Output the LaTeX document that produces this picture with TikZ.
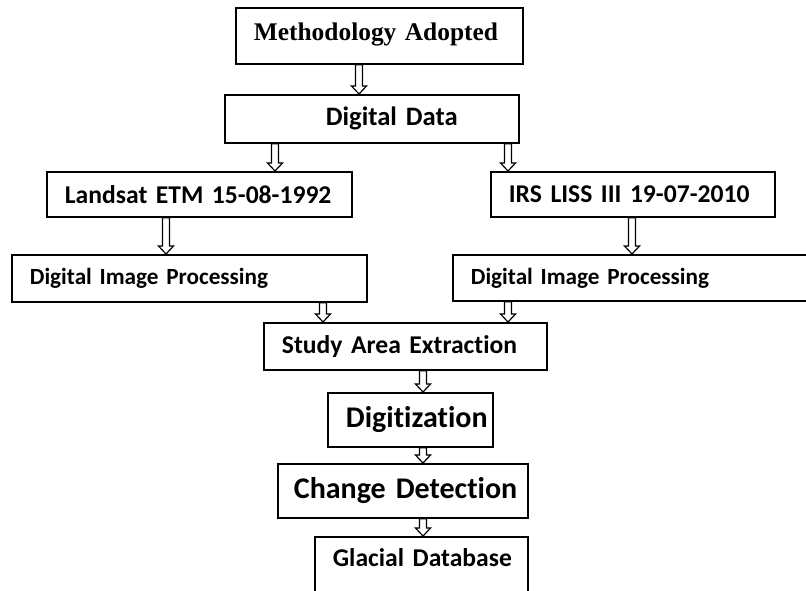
\documentclass[tikz,border=0pt]{standalone}
\usepackage{fontspec}
\setmainfont{Carlito}[Ligatures=NoCommon]
\newfontfamily\timesfont{Liberation Serif}
\usetikzlibrary{calc}

\tikzset{
  box/.style={draw,line width=0.9pt,rectangle,anchor=north west,inner xsep=9pt,inner ysep=0pt,align=left},
  hollow/.style={to path={($(\tikztostart)+(-3.5,0)$) -- ($(\tikztotarget)+(-3.5,-8)$) -- ($(\tikztotarget)+(-7.5,-8)$) -- (\tikztotarget) -- ($(\tikztotarget)+(7.5,-8)$) -- ($(\tikztotarget)+(3.5,-8)$) -- ($(\tikztostart)+(3.5,0)$) -- cycle}}
}

\begin{document}
\begin{tikzpicture}
  [x=0.5pt,y=-0.5pt,every node/.style={box,font=\fontsize{12.8}{15}\selectfont\bfseries}]
  \useasboundingbox (0,0) rectangle (806,590);
  \clip (0,0) rectangle (806,590);
  \node (method) at (235,7) [text width=125.5pt,minimum height=28pt,text depth=4pt,font=\timesfont\fontsize{12.7}{15}\selectfont\bfseries] {\mbox{Methodology Adopted}};
  \node (data) at (224,94) [text width=129pt,minimum height=24pt,font=\fontsize{13.3}{15}\selectfont\bfseries] {\mbox{\hspace*{41.5pt}Digital Data}};
  \node (landsat) at (46,171) [text width=134.5pt,minimum height=22.5pt] {\mbox{Landsat ETM 15-08-1992}};
  \node (irs) at (490,171) [text width=124pt,minimum height=22.5pt] {\mbox{IRS LISS III 19-07-2010}};
  \node (dipl) at (11,254) [text width=159.5pt,minimum height=23.5pt,font=\fontsize{11.6}{14}\selectfont\bfseries] {\mbox{Digital Image Processing}};
  \node (dipr) at (452,254) [text width=172pt,minimum height=23pt,font=\fontsize{11.6}{14}\selectfont\bfseries] {\mbox{Digital Image Processing}};
  \node (study) at (263,322) [text width=123.5pt,minimum height=23.5pt] {\mbox{Study Area Extraction}};
  \node (digit) at (327,392) [text width=64.5pt,minimum height=27pt,font=\fontsize{15}{18}\selectfont\bfseries] {\mbox{Digitization}};
  \node (change) at (277,463) [text width=107pt,minimum height=27pt,font=\fontsize{15}{18}\selectfont\bfseries] {\mbox{\hspace*{-1pt}Change Detection}};
  \node (glacial) at (314,536) [text width=88.5pt,minimum height=30pt,text depth=9pt] {\mbox{Glacial Database}};

\foreach \x/\from/\to in
{359/method/data, 275/data/landsat, 508/data/irs, 166/landsat/dipl, 632/irs/dipr,
 323/dipl/study, 508/dipr/study, 423/study/digit, 423/digit/change, 423/change/glacial}
    \draw[line width=0.6pt] (\x,0 |- \from.south) to[hollow] (\x,0 |- \to.north);
\end{tikzpicture}
\end{document}
